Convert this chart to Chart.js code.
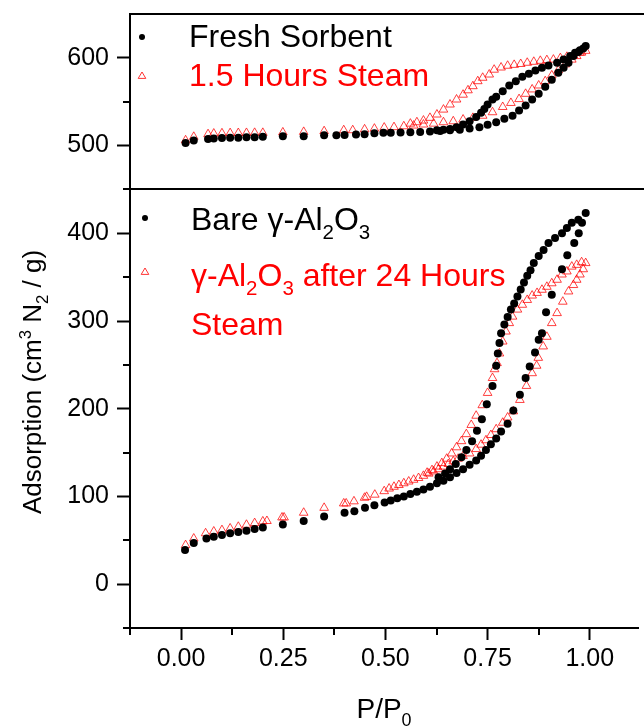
<!DOCTYPE html>
<html>
<head>
<meta charset="utf-8">
<script src="https://cdn.jsdelivr.net/npm/chart.js@4.4.1/dist/chart.umd.min.js"></script>
<style>
  html, body { margin: 0; padding: 0; background: #fff; overflow: hidden; }
  #wrap { width: 644px; height: 728px; }
</style>
</head>
<body>
<div id="wrap"><canvas id="c" width="644" height="728"></canvas></div>
<script>
// ---- data ----
// upper panel: Fresh Sorbent (adsorption then desorption)
const freshP = [0.011,0.031,0.066,0.080,0.10,0.12,0.14,0.16,0.18,0.20,0.249,0.30,0.35,0.38,0.40,0.428,0.449,0.473,0.495,0.513,0.537,0.561,0.585,0.609,0.634,0.658,0.682,0.706,0.730,0.750,0.771,0.791,0.811,0.827,0.843,0.859,0.875,0.891,0.907,0.923,0.936,0.948,0.960,0.972,0.984,0.990,
  0.976,0.964,0.952,0.936,0.920,0.899,0.883,0.867,0.851,0.835,0.819,0.803,0.787,0.771,0.762,0.750,0.742,0.734,0.722,0.706,0.690,0.674,0.658,0.642,0.626];
const freshV = [503,505.7,507.6,508,508.7,509,509,509.5,509.5,510,510.5,510.5,511.8,511.8,512,512.6,513,514,514.5,514.5,514.8,515.2,515.6,516,516.7,517.5,518,519.6,521,523.6,526.6,530.5,534,540,545.7,552.5,559,567,575,583,588.6,594.5,602,606.6,610.6,613.6,
  608.8,605.8,602,598,594.4,591.3,588.7,585.6,582,578.4,573.4,568.5,562,555.6,552.5,546.8,541.8,537.3,532.7,527.7,524,521,519,518,517.5];

// upper panel: 1.5 Hours Steam
const steam15P = [0.011,0.031,0.066,0.080,0.10,0.12,0.14,0.16,0.18,0.20,0.249,0.30,0.35,0.398,0.42,0.449,0.473,0.497,0.521,0.545,0.569,0.593,0.618,0.642,0.666,0.690,0.714,0.738,0.762,0.787,0.807,0.827,0.843,0.859,0.875,0.891,0.907,0.923,0.940,0.956,0.968,0.980,0.990,
  0.976,0.960,0.944,0.928,0.911,0.895,0.879,0.863,0.847,0.831,0.815,0.799,0.783,0.766,0.754,0.738,0.726,0.714,0.702,0.690,0.674,0.658,0.642,0.626,0.609,0.593,0.577,0.561];
const steam15V = [506,510,513,513.7,514,514.2,514.3,514.4,514.5,514.5,515,515.6,516.4,517.5,517.5,518.5,519.3,520.5,521,522,522.8,524,525,526.6,527.7,529.7,531.6,534,538,544,548.6,553,559,564,568.5,573.4,580,586,592.5,598,602,606,608,
  605.8,602.7,601.2,599.7,598,597.4,596.6,595.5,594.4,593,592,591,589,586.5,581,577.3,573.4,567.7,563,558,552.5,546.8,541,535.4,531.6,528.5,526.6,525];

// lower panel: Bare gamma-Al2O3
const bareP = [0.0097,0.031,0.062,0.080,0.10,0.12,0.14,0.16,0.18,0.20,0.249,0.30,0.35,0.40,0.424,0.45,0.473,0.498,0.513,0.529,0.545,0.561,0.577,0.593,0.609,0.626,0.642,0.658,0.674,0.690,0.706,0.722,0.734,0.746,0.758,0.771,0.783,0.799,0.813,0.829,0.843,0.853,0.866,0.875,0.883,0.893,0.907,0.932,0.945,0.962,0.973,0.981,0.990,
  0.972,0.956,0.944,0.932,0.915,0.899,0.887,0.875,0.863,0.855,0.847,0.839,0.831,0.823,0.815,0.807,0.799,0.791,0.783,0.779,0.775,0.771,0.762,0.748,0.736,0.724,0.712,0.698,0.686,0.672,0.658,0.646,0.630];
const bareV = [38.8,47,52,54,56,58,59.4,61,63,64.7,68,72,77,81.4,83,87,90,93,95.5,97.8,100,102.7,105.4,108,111,115,118,122,126.7,131,136,141,146.5,153,159.5,166,174,183,198,216,235,248,264,278.5,286,310,330,359,375,389,400,412,423,
  415.5,412,406,400,394.5,389,381,374,366,358,351.6,344,336,328,320,313,304.5,296,286,275,263,249,226,205,188,175,163,153,144.6,137,131,126,122];

// lower panel: gamma-Al2O3 after 24 Hours Steam
const steam24P = [0.011,0.031,0.060,0.080,0.10,0.12,0.14,0.16,0.18,0.20,0.21,0.247,0.252,0.30,0.35,0.398,0.404,0.423,0.449,0.454,0.474,0.497,0.509,0.521,0.533,0.545,0.557,0.569,0.581,0.593,0.606,0.618,0.630,0.642,0.654,0.666,0.678,0.690,0.706,0.722,0.734,0.746,0.758,0.771,0.787,0.799,0.813,0.829,0.845,0.859,0.870,0.874,0.886,0.895,0.907,0.920,0.934,0.948,0.960,0.968,0.976,0.984,0.990,
  0.980,0.968,0.956,0.944,0.932,0.920,0.907,0.895,0.883,0.871,0.859,0.847,0.835,0.823,0.811,0.803,0.795,0.787,0.779,0.773,0.767,0.762,0.750,0.737,0.722,0.710,0.698,0.686,0.674,0.662,0.650,0.638,0.626,0.614,0.602];
const steam24V = [44.5,52,58,60,61.6,63.5,65.4,67.7,69.6,71.5,72,76,76,81.4,87,92,92,94.4,98.5,99.5,102,106,109,111,113,115,117,119,121,123.5,126,128.5,131,134,137,140,143,146,149,154,159,164,170,176.6,184,190,197,210,226,240.5,249,258,271,282,297.6,309,322,333.7,341,347,353,359,366,
  367,364,362,356.5,353,347,343,339,335.6,332,329,324,318.5,313,305,297.6,288,276.6,263,252,245,235,218,204,192,181.5,171,163,156,149,143,138,134,130,127];

const xMajor = [0, 0.25, 0.5, 0.75, 1.0];
const xMinor = [-0.125, 0.125, 0.375, 0.625, 0.875];
const yMajor = [0, 100, 200, 300, 400, 500, 600];
const yMinor = [-50, 50, 150, 250, 350, 450, 550];
const panelSplit = 450;

const FONT = "'Liberation Sans', Arial, sans-serif";

function pts(xs, ys) {
  return xs.map((x, i) => ({x: x, y: ys[i]}));
}

// draw text with simple sub/superscripts, parts = [[text, kind], ...]
function drawRich(ctx, parts, x, y, size, align) {
  const seg = parts.map(([t, k]) => {
    const s = k ? size * 0.64 : size;
    ctx.font = s + 'px ' + FONT;
    return {t, k, s, w: ctx.measureText(t).width};
  });
  const total = seg.reduce((a, p) => a + p.w, 0);
  let cx = align === 'center' ? x - total / 2 : x;
  ctx.textAlign = 'left';
  ctx.textBaseline = 'alphabetic';
  seg.forEach(p => {
    ctx.font = p.s + 'px ' + FONT;
    let dy = 0;
    if (p.k === 'sub') dy = size * 0.28;
    if (p.k === 'sup') dy = -size * 0.40;
    ctx.fillText(p.t, cx, y + dy);
    cx += p.w;
  });
}

function drawDot(ctx, x, y, r) {
  ctx.beginPath();
  ctx.arc(x, y, r, 0, Math.PI * 2);
  ctx.fillStyle = '#000';
  ctx.fill();
}

function drawTri(ctx, x, y, r) {
  ctx.beginPath();
  ctx.moveTo(x, y - r);
  ctx.lineTo(x + r * 0.95, y + r * 0.6);
  ctx.lineTo(x - r * 0.95, y + r * 0.6);
  ctx.closePath();
  ctx.strokeStyle = 'rgba(255,0,0,0.8)';
  ctx.lineWidth = 1;
  ctx.stroke();
}

const legendItems = [
  {mark: 'dot', mx: 142, my: 37, tx: 189, ty: 47, color: '#000', parts: [['Fresh Sorbent']]},
  {mark: 'tri', mx: 142, my: 76, tx: 189, ty: 86, color: '#f00', parts: [['1.5 Hours Steam']]},
  {mark: 'dot', mx: 145, my: 218, tx: 191, ty: 230, color: '#000', parts: [['Bare γ-Al'], ['2', 'sub'], ['O'], ['3', 'sub']]},
  {mark: 'tri', mx: 145, my: 272, tx: 191, ty: 286, color: '#f00', parts: [['γ-Al'], ['2', 'sub'], ['O'], ['3', 'sub'], [' after 24 Hours']]},
  {mark: null, tx: 191, ty: 335, color: '#f00', parts: [['Steam']]}
];

const decor = {
  id: 'decor',
  afterDraw(chart) {
    const ctx = chart.ctx;
    const a = chart.chartArea;
    const xs = chart.scales.x, ys = chart.scales.y;
    ctx.save();
    ctx.strokeStyle = '#000';
    ctx.lineWidth = 2;
    // top frame and panel separator
    ctx.beginPath();
    ctx.moveTo(a.left - 1, a.top);
    ctx.lineTo(chart.width, a.top);
    const ySplit = Math.round(ys.getPixelForValue(panelSplit));
    ctx.moveTo(a.left, ySplit);
    ctx.lineTo(chart.width, ySplit);
    ctx.stroke();
    // minor ticks
    ctx.beginPath();
    yMinor.forEach(v => {
      const y = Math.round(ys.getPixelForValue(v));
      ctx.moveTo(a.left - 7, y);
      ctx.lineTo(a.left, y);
    });
    xMinor.forEach(v => {
      const x = Math.round(xs.getPixelForValue(v));
      ctx.moveTo(x, a.bottom);
      ctx.lineTo(x, a.bottom + 7);
    });
    ctx.stroke();

    // legends
    legendItems.forEach(it => {
      if (it.mark === 'dot') drawDot(ctx, it.mx, it.my, 3);
      if (it.mark === 'tri') drawTri(ctx, it.mx, it.my, 4);
      ctx.fillStyle = it.color;
      drawRich(ctx, it.parts, it.tx, it.ty, 32, 'left');
    });

    // axis titles
    ctx.fillStyle = '#000';
    drawRich(ctx, [['P/P'], ['0', 'sub']], (a.left + a.right) / 2, 718, 28, 'center');
    ctx.translate(41, 382);
    ctx.rotate(-Math.PI / 2);
    drawRich(ctx, [['Adsorption (cm'], ['3', 'sup'], [' N'], ['2', 'sub'], [' / g)']], 0, 0, 26, 'center');
    ctx.restore();
  }
};

new Chart(document.getElementById('c'), {
  type: 'scatter',
  data: {
    datasets: [
      {label: 'Fresh Sorbent', data: pts(freshP, freshV), pointStyle: 'circle', pointRadius: 4,
        backgroundColor: '#000', borderWidth: 0},
      {label: '1.5 Hours Steam', data: pts(steam15P, steam15V), pointStyle: 'triangle', pointRadius: 5,
        backgroundColor: 'rgba(0,0,0,0)', borderColor: 'rgba(255,0,0,0.75)', borderWidth: 1},
      {label: 'Bare γ-Al2O3', data: pts(bareP, bareV), pointStyle: 'circle', pointRadius: 4,
        backgroundColor: '#000', borderWidth: 0},
      {label: 'γ-Al2O3 after 24 Hours Steam', data: pts(steam24P, steam24V), pointStyle: 'triangle', pointRadius: 5,
        backgroundColor: 'rgba(0,0,0,0)', borderColor: 'rgba(255,0,0,0.75)', borderWidth: 1}
    ]
  },
  options: {
    responsive: false,
    animation: false,
    devicePixelRatio: 1,
    layout: {padding: {top: 14, left: 0, right: 0, bottom: 0}},
    plugins: {legend: {display: false}, tooltip: {enabled: false}},
    scales: {
      x: {
        type: 'linear', min: -0.125, max: 1.118,
        afterBuildTicks: s => { s.ticks = xMajor.map(v => ({value: v})); },
        afterFit: s => { s.height = 100; s.paddingLeft = 0; s.paddingRight = 0; },
        ticks: {callback: v => v.toFixed(2), color: '#000', font: {family: FONT, size: 25},
          padding: 4, maxRotation: 0, autoSkip: false},
        grid: {drawOnChartArea: false, tickLength: 12, tickWidth: 2, tickColor: '#000'},
        border: {color: '#000', width: 2}
      },
      y: {
        type: 'linear', min: -50, max: 650,
        afterBuildTicks: s => { s.ticks = yMajor.map(v => ({value: v})); },
        afterFit: s => { s.width = 130; s.paddingTop = 0; s.paddingBottom = 0; },
        ticks: {callback: v => String(v), color: '#000', font: {family: FONT, size: 25},
          padding: 8, autoSkip: false},
        grid: {drawOnChartArea: false, tickLength: 13, tickWidth: 2, tickColor: '#000'},
        border: {color: '#000', width: 2}
      }
    }
  },
  plugins: [decor]
});
</script>
</body>
</html>
